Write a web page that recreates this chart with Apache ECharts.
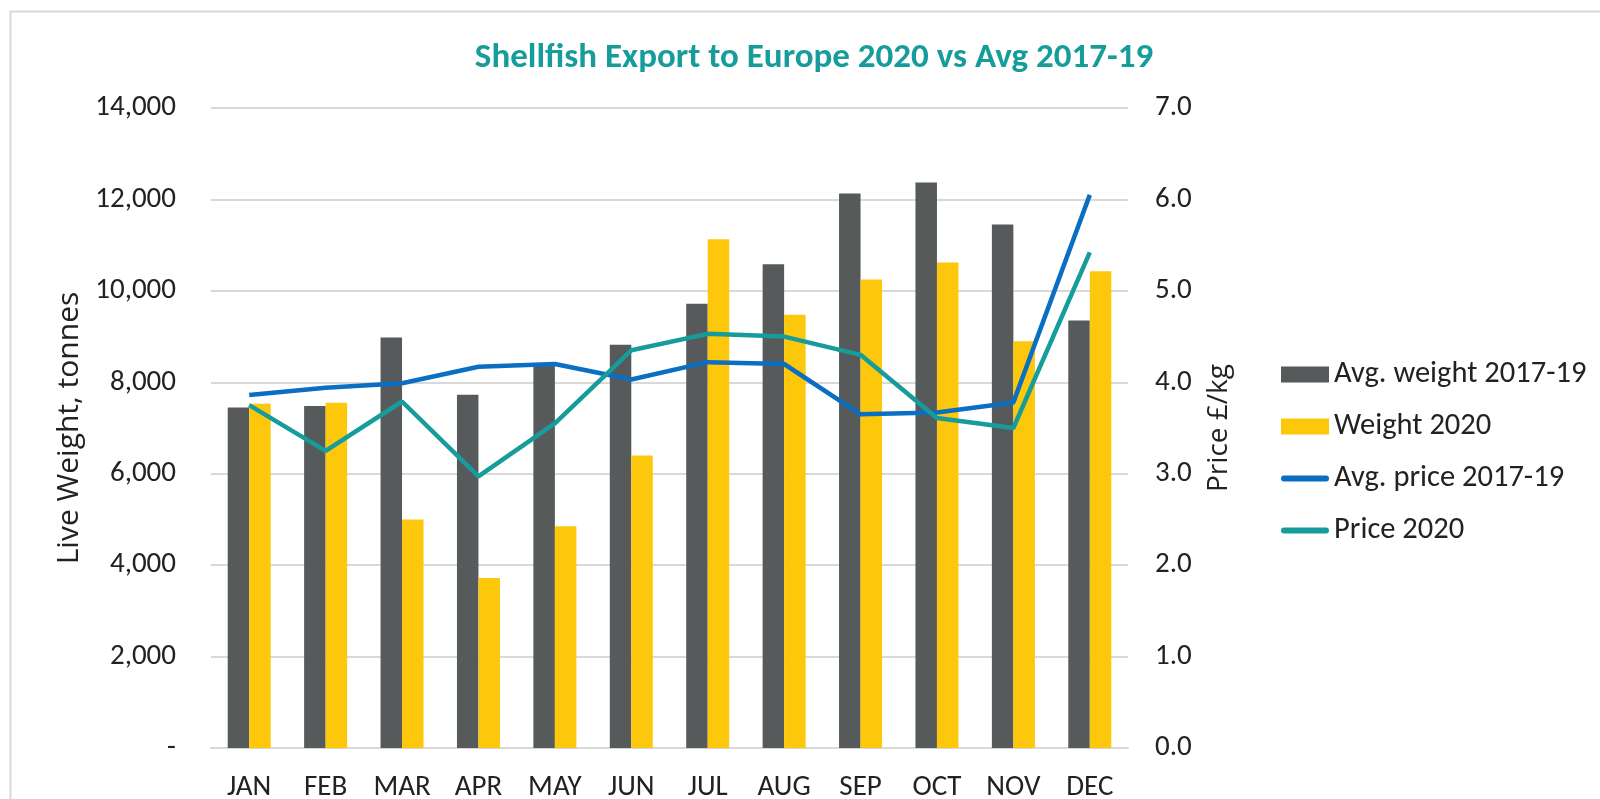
<!DOCTYPE html>
<html>
<head>
<meta charset="utf-8">
<title>Shellfish Export to Europe</title>
<script src="https://cdn.jsdelivr.net/npm/echarts@6/dist/echarts.min.js"></script>
<style>
  html, body { margin: 0; padding: 0; background: #fff; }
  #main { width: 1600px; height: 799px; }
</style>
</head>
<body>
<div id="main"></div>
<script>
// 月份
var months = ['JAN', 'FEB', 'MAR', 'APR', 'MAY', 'JUN', 'JUL', 'AUG', 'SEP', 'OCT', 'NOV', 'DEC'];
// 重量 (tonnes)
var avgWeight = [7450, 7480, 8980, 7730, 8400, 8820, 9720, 10580, 12130, 12370, 11450, 9350];
var weight2020 = [7530, 7550, 5000, 3720, 4850, 6400, 11130, 9480, 10250, 10620, 8900, 10430];
// 价格 (£/kg)
var avgPrice = [3.86, 3.94, 3.99, 4.17, 4.2, 4.03, 4.22, 4.2, 3.65, 3.67, 3.78, 6.05];
var price2020 = [3.75, 3.25, 3.79, 2.97, 3.55, 4.35, 4.53, 4.5, 4.3, 3.61, 3.5, 5.42];

var font = 'Carlito, "Liberation Sans Narrow", "Open Sans", sans-serif';
var nameFont = '"Open Sans", "DejaVu Sans", sans-serif';

// 图例里折线的图标 (细长条)
var lineIcon = 'path://M3,0 H45 A3,3 0 0 1 45,6 H3 A3,3 0 0 1 3,0 Z';

var chart = echarts.init(document.getElementById('main'));

var option = {
  animation: false,
  textStyle: { fontFamily: font },
  // 外框
  graphic: [{
    type: 'rect',
    shape: { x: 10.5, y: 11.5, width: 1620, height: 820 },
    style: { fill: 'none', stroke: '#d9d9d9', lineWidth: 2 },
    silent: true
  }],
  title: {
    text: 'Shellfish Export to Europe 2020 vs Avg 2017-19',
    left: 809,
    textAlign: 'center',
    top: 36,
    textStyle: { color: '#179c9c', fontSize: 35, fontWeight: 'bold', fontFamily: font }
  },
  legend: {
    orient: 'vertical',
    left: 1276,
    top: 354,
    itemWidth: 48,
    itemHeight: 16,
    itemGap: 21,
    textStyle: { fontSize: 30.5, lineHeight: 30, color: '#222', fontFamily: font, padding: 0 },
    data: [
      { name: 'Avg. weight 2017-19', icon: 'rect' },
      { name: 'Weight 2020', icon: 'rect' },
      { name: 'Avg. price 2017-19', icon: lineIcon },
      { name: 'Price 2020', icon: lineIcon }
    ]
  },
  grid: { left: 211, right: 472, top: 108, bottom: 51, outerBoundsMode: 'none' },
  xAxis: {
    type: 'category',
    data: months,
    axisTick: { show: false },
    axisLine: { lineStyle: { color: '#d9d9d9', width: 2 } },
    axisLabel: { color: '#222', fontSize: 29, margin: 25, fontFamily: font }
  },
  yAxis: [{
    type: 'value',
    min: 0,
    max: 14000,
    interval: 2000,
    name: 'Live Weight, tonnes',
    nameLocation: 'middle',
    nameGap: 119,
    nameTextStyle: { fontSize: 30, color: '#222', fontFamily: nameFont },
    axisLabel: {
      color: '#222', fontSize: 29, margin: 35, fontFamily: font,
      formatter: function (v) { return v === 0 ? '-' : v.toLocaleString('en-US'); }
    },
    splitLine: { lineStyle: { color: '#d9d9d9', width: 2 } }
  }, {
    type: 'value',
    min: 0,
    max: 7,
    interval: 1,
    name: 'Price £/kg',
    nameLocation: 'middle',
    nameGap: 77,
    nameTextStyle: { fontSize: 28, color: '#222', fontFamily: nameFont },
    axisLabel: {
      color: '#222', fontSize: 29, margin: 27, fontFamily: font,
      formatter: function (v) { return v.toFixed(1); }
    },
    splitLine: { show: false }
  }],
  series: [{
    name: 'Avg. weight 2017-19',
    type: 'bar',
    data: avgWeight,
    barWidth: 21.5,
    barGap: '0%',
    itemStyle: { color: '#575a5a' }
  }, {
    name: 'Weight 2020',
    type: 'bar',
    data: weight2020,
    barWidth: 21.5,
    itemStyle: { color: '#fdc70c' }
  }, {
    name: 'Avg. price 2017-19',
    type: 'line',
    yAxisIndex: 1,
    data: avgPrice,
    symbol: 'none',
    lineStyle: { color: '#0a6fc2', width: 4.5 },
    itemStyle: { color: '#0a6fc2' }
  }, {
    name: 'Price 2020',
    type: 'line',
    yAxisIndex: 1,
    data: price2020,
    symbol: 'none',
    lineStyle: { color: '#179c9c', width: 4.5 },
    itemStyle: { color: '#179c9c' }
  }]
};

chart.setOption(option);
</script>
</body>
</html>
